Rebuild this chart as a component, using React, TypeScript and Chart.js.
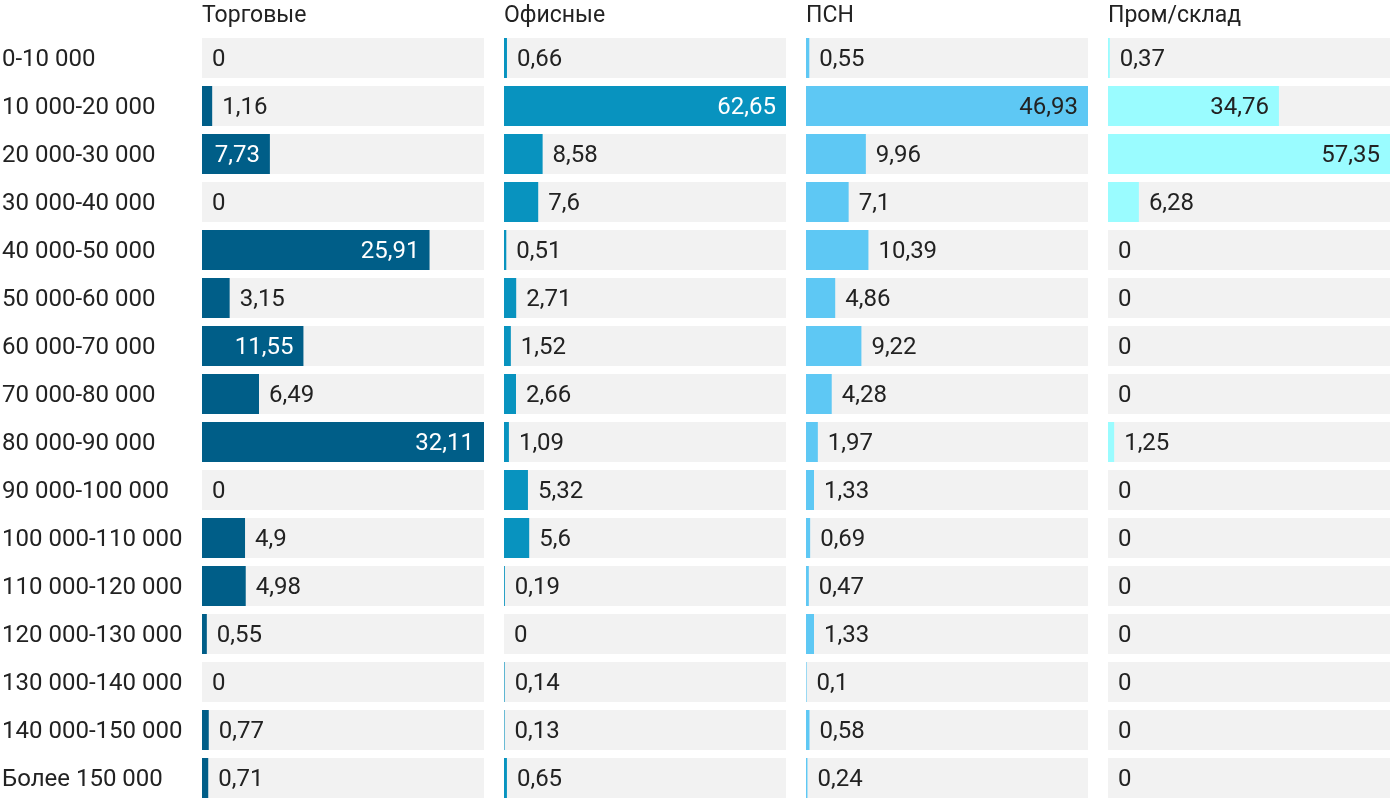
import React, { useEffect, useRef } from "react";
import { Chart, registerables } from "chart.js";

Chart.register(...registerables);

const categories: string[] = [
  "0-10 000",
  "10 000-20 000",
  "20 000-30 000",
  "30 000-40 000",
  "40 000-50 000",
  "50 000-60 000",
  "60 000-70 000",
  "70 000-80 000",
  "80 000-90 000",
  "90 000-100 000",
  "100 000-110 000",
  "110 000-120 000",
  "120 000-130 000",
  "130 000-140 000",
  "140 000-150 000",
  "Более 150 000",
];

const retail: number[] = [0, 1.16, 7.73, 0, 25.91, 3.15, 11.55, 6.49, 32.11, 0, 4.9, 4.98, 0.55, 0, 0.77, 0.71];
const office: number[] = [0.66, 62.65, 8.58, 7.6, 0.51, 2.71, 1.52, 2.66, 1.09, 5.32, 5.6, 0.19, 0, 0.14, 0.13, 0.65];
const psn: number[] = [0.55, 46.93, 9.96, 7.1, 10.39, 4.86, 9.22, 4.28, 1.97, 1.33, 0.69, 0.47, 1.33, 0.1, 0.58, 0.24];
const industrial: number[] = [0.37, 34.76, 57.35, 6.28, 0, 0, 0, 0, 1.25, 0, 0, 0, 0, 0, 0, 0];

const panelTitles: string[] = ["Торговые", "Офисные", "ПСН", "Пром/склад"];

const FONT = "Roboto, 'Noto Sans', sans-serif";
const TEXT = "#222222";
const TRACK = "#f2f2f2";

type Panel = {
  title: string;
  values: number[];
  color: string;
  insideText: string;
  left: number;
  width: number;
  showCategories: boolean;
};

const panels: Panel[] = [
  { title: panelTitles[0], values: retail, color: "#005e88", insideText: "#ffffff", left: 2, width: 482, showCategories: true },
  { title: panelTitles[1], values: office, color: "#0893bf", insideText: "#ffffff", left: 504, width: 282, showCategories: false },
  { title: panelTitles[2], values: psn, color: "#5ec8f4", insideText: "#222222", left: 806, width: 282, showCategories: false },
  { title: panelTitles[3], values: industrial, color: "#9afcff", insideText: "#222222", left: 1108, width: 282, showCategories: false },
];

const trackPlugin = {
  id: "track",
  beforeDatasetsDraw(chart: any) {
    const { ctx, chartArea } = chart;
    const meta = chart.getDatasetMeta(0);
    ctx.save();
    ctx.fillStyle = TRACK;
    meta.data.forEach((el: any) => {
      ctx.fillRect(chartArea.left, el.y - el.height / 2, chartArea.right - chartArea.left, el.height);
    });
    ctx.restore();
  },
};

const valueLabelPlugin = {
  id: "valueLabels",
  afterDatasetsDraw(chart: any, _args: any, opts: any) {
    const { ctx } = chart;
    const meta = chart.getDatasetMeta(0);
    const values: number[] = chart.data.datasets[0].data;
    ctx.save();
    ctx.font = `24px ${FONT}`;
    ctx.textBaseline = "middle";
    meta.data.forEach((el: any, i: number) => {
      const text = String(values[i]).replace(".", ",");
      const w = ctx.measureText(text).width;
      const barW = el.x - el.base;
      const pad = 10;
      const y = el.y + 2;
      if (barW >= w + 2 * pad) {
        ctx.textAlign = "right";
        ctx.fillStyle = opts.insideColor;
        ctx.fillText(text, el.x - pad, y);
      } else {
        ctx.textAlign = "left";
        ctx.fillStyle = TEXT;
        ctx.fillText(text, el.x + pad, y);
      }
    });
    ctx.restore();
  },
};

function PanelChart({ panel }: { panel: Panel }) {
  const ref = useRef<HTMLCanvasElement | null>(null);
  useEffect(() => {
    if (!ref.current) return;
    const chart = new Chart(ref.current, {
      type: "bar",
      data: {
        labels: categories,
        datasets: [
          {
            data: panel.values,
            backgroundColor: panel.color,
            borderWidth: 0,
            barPercentage: 40 / 48,
            categoryPercentage: 1,
          },
        ],
      },
      options: {
        indexAxis: "y",
        animation: false,
        responsive: true,
        maintainAspectRatio: false,
        layout: { padding: 0 },
        scales: {
          x: {
            display: false,
            min: 0,
            max: Math.max(...panel.values),
          },
          y: {
            display: panel.showCategories,
            grid: { display: false },
            border: { display: false },
            ticks: {
              autoSkip: false,
              crossAlign: "far",
              padding: 0,
              labelOffset: 2,
              color: TEXT,
              font: { family: FONT, size: 24 },
            },
            afterFit: (scale: any) => {
              if (panel.showCategories) scale.width = 200;
              scale.paddingTop = 0;
              scale.paddingBottom = 0;
            },
          },
        },
        plugins: {
          legend: { display: false },
          tooltip: { enabled: false },
          title: {
            display: true,
            text: panel.title,
            align: "start",
            fullSize: false,
            color: TEXT,
            font: { family: FONT, size: 23, weight: "normal", lineHeight: 1 },
            padding: { top: 5, bottom: 6 },
          },
          valueLabels: { insideColor: panel.insideText },
        } as any,
      },
      plugins: [trackPlugin, valueLabelPlugin],
    });
    return () => chart.destroy();
  }, [panel]);

  return (
    <div
      style={{
        position: "absolute",
        left: panel.left,
        top: 0,
        width: panel.width,
        height: 802,
      }}
    >
      <canvas ref={ref} />
    </div>
  );
}

export default function App() {
  return (
    <div
      style={{
        position: "fixed",
        left: 0,
        top: 0,
        width: 1400,
        height: 798,
        overflow: "hidden",
        background: "#ffffff",
      }}
    >
      {panels.map((p) => (
        <PanelChart key={p.title} panel={p} />
      ))}
    </div>
  );
}
